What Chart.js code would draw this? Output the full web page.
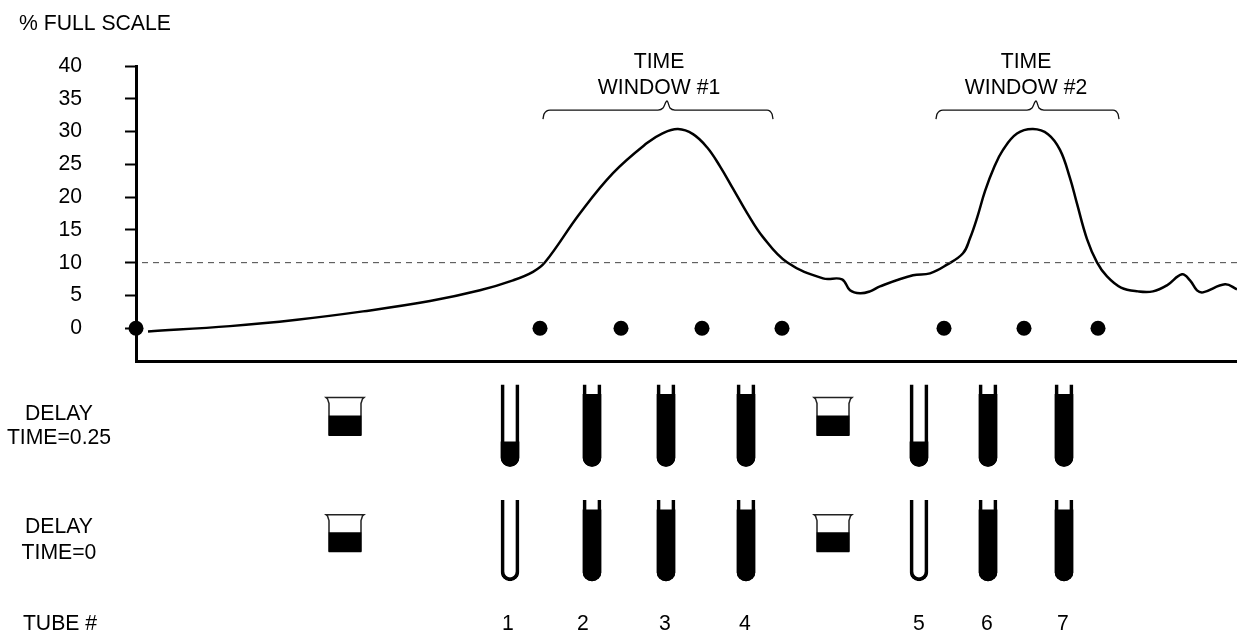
<!DOCTYPE html>
<html>
<head>
<meta charset="utf-8">
<title>Delay time windows</title>
<script src="https://cdn.jsdelivr.net/npm/chart.js@4"></script>
<style>
  html,body{margin:0;padding:0;background:#fff;}
  canvas{display:block;}
</style>
</head>
<body>
<canvas id="delayChart" width="1237" height="634"></canvas>
<script>
const yTicks=[0,5,10,15,20,25,30,35,40];
const signalX=[12,94,161,227,294,344,377,397,409,444,477,511,527,542,557,571,584,597,611,627,651,687,706,714,724,734,744,777,794,811,827,834,841,849,858,867,881,897,912,924,934,941,951,961,971,985,1002,1017,1031,1046,1054,1061,1067,1089,1101];
const signalY=[-0.49,0.32,1.30,2.57,4.14,5.78,7.30,8.6,10.05,17.54,23.66,28.24,29.77,30.38,29.6,27.6,24.7,21.3,17.6,13.9,10.05,7.61,7.46,5.78,5.32,5.62,6.39,8.07,8.37,9.7,11.43,13.72,16.8,20.9,24.5,27.2,29.7,30.38,29.6,27.2,22.9,19.0,13.6,10.05,7.9,6.2,5.62,5.62,6.54,8.22,7.3,5.78,5.47,6.69,5.93];
const thresholdX=[6,1101];
const thresholdY=[10,10];
const sampleDotX=[0,404,485,566,646,808,888,962];
const sampleDotY=[0,0,0,0,0,0,0,0];
const brace1X=[407,408,414,522,527,531,534,539,631,636,637];
const brace2X=[800,801,807,891,896,900,903,908,977,982,983];
const braceY=[31.9,32.66,33.28,33.28,33.59,34.66,33.59,33.28,33.28,32.66,31.9];
const tubeNames=["1","2","3","4","5","6","7"];
const tubeX=[374,456,530,610,783,852,928];
const tubeNameX=[372,447,529,609,783,851,927];
const delay025Levels=[30,88,88,88,30,88,88];
const delay0Levels=[0,88,88,88,0,88,88];
const beakerX=[209,697];
const beakerLevel=52;

// tube and beaker rows sit under the plot, in y axis units
const tubeRows=[{top:-8.59,bottom:-21.07,levels:delay025Levels},{top:-26.21,bottom:-38.53,levels:delay0Levels}];
const beakerRows=[{rim:-10.57,bottom:-16.38},{rim:-28.45,bottom:-34.11}];

const FONT='21.2px "Liberation Sans", Arial, sans-serif';

function xy(xs,ys){ return xs.map((x,i)=>({x,y:ys[i]})); }

const tubeOutline=[];
const tubeFill=[];
tubeRows.forEach(r=>{
  tubeX.forEach((x,i)=>{
    tubeOutline.push({x,y:[r.bottom,r.top]});
    if(r.levels[i]>0) tubeFill.push({x,y:[r.bottom,r.bottom+(r.top-r.bottom)*r.levels[i]/100]});
  });
});

const beakerFill=[];
const beakerOutline=[];
beakerRows.forEach(r=>{
  beakerX.forEach(x=>{
    beakerFill.push({x,y:[r.bottom,r.bottom+(r.rim-r.bottom)*beakerLevel/100]});
    beakerOutline.push({
      label:"beaker",
      data:[
        {x:x-16,y:r.bottom},{x:x-16,y:r.rim-0.9},{x:x-17.5,y:r.rim-0.2},{x:x-19,y:r.rim},
        {x:x+19,y:r.rim},{x:x+17.5,y:r.rim-0.2},{x:x+16,y:r.rim-0.9},{x:x+16,y:r.bottom}
      ],
      borderColor:"#222",borderWidth:1.5,pointRadius:0,tension:0,clip:false
    });
  });
});

const textLabels=[
  {text:"% FULL SCALE",x:19,y:24,align:"left"},
  {text:"TIME",x:659,y:62},
  {text:"WINDOW #1",x:659,y:88},
  {text:"TIME",x:1026,y:62},
  {text:"WINDOW #2",x:1026,y:88},
  {text:"DELAY",x:59,y:414},
  {text:"TIME=0.25",x:59,y:438},
  {text:"DELAY",x:59,y:527},
  {text:"TIME=0",x:59,y:553},
  {text:"TUBE #",x:60,y:624}
];

const textPlugin={
  id:"textPlugin",
  afterDraw(chart){
    const c=chart.ctx;
    c.save();
    c.font=FONT;
    c.fillStyle="#000";
    c.textBaseline="middle";
    textLabels.forEach(l=>{
      c.textAlign=l.align||"center";
      c.fillText(l.text,l.x,l.y);
    });
    c.textAlign="center";
    tubeNames.forEach((n,i)=>{
      c.fillText(n,chart.scales.x.getPixelForValue(tubeNameX[i]),624);
    });
    c.restore();
  }
};

new Chart(document.getElementById("delayChart"),{
  type:"line",
  plugins:[textPlugin],
  data:{
    datasets:[
      { label:"threshold", data:xy(thresholdX,thresholdY), borderColor:"#444", borderWidth:1, borderDash:[6,5], pointRadius:0 },
      { label:"signal", data:xy(signalX,signalY), borderColor:"#000", borderWidth:2.5, pointRadius:0, tension:0.4, clip:false },
      { label:"window 1", data:xy(brace1X,braceY), borderColor:"#111", borderWidth:1.3, pointRadius:0, cubicInterpolationMode:"monotone" },
      { label:"window 2", data:xy(brace2X,braceY), borderColor:"#111", borderWidth:1.3, pointRadius:0, cubicInterpolationMode:"monotone" },
      { label:"samples", data:xy(sampleDotX,sampleDotY), showLine:false, pointRadius:7.5, pointBackgroundColor:"#000", pointBorderWidth:0, clip:false },
      { type:"bar", label:"tube fill", data:tubeFill, backgroundColor:"#000", barThickness:18, grouped:false,
        borderRadius:{topLeft:0,topRight:0,bottomLeft:9,bottomRight:9}, borderSkipped:false, clip:false },
      // floating bars below zero have their base at the top, so "bottom" here opens the top end
      { type:"bar", label:"tube wall", data:tubeOutline, backgroundColor:"rgba(0,0,0,0)", borderColor:"#000", borderWidth:3, barThickness:18, grouped:false,
        borderRadius:{topLeft:0,topRight:0,bottomLeft:9,bottomRight:9}, borderSkipped:"bottom", clip:false },
      { type:"bar", label:"beaker fill", data:beakerFill, backgroundColor:"#000", barThickness:32, grouped:false, clip:false },
      ...beakerOutline
    ]
  },
  options:{
    responsive:false,
    animation:false,
    events:[],
    layout:{ autoPadding:false, padding:{left:0,right:0,top:66,bottom:273} },
    plugins:{ legend:{display:false}, tooltip:{enabled:false}, title:{display:false} },
    scales:{
      x:{
        type:"linear", min:0, max:1101, offset:false,
        ticks:{display:false},
        grid:{display:false},
        border:{display:true,color:"#000",width:3},
        afterFit(s){ s.height=0; }
      },
      y:{
        type:"linear", min:-5, max:40,
        afterBuildTicks(s){ s.ticks=yTicks.map(v=>({value:v})); },
        afterFit(s){ s.width=136; },
        ticks:{ autoSkip:false, color:"#000", padding:43, font:{family:"Liberation Sans",size:21.2} },
        grid:{ drawOnChartArea:false, drawTicks:true, tickLength:11, tickColor:"#000", tickWidth:2 },
        border:{display:true,color:"#000",width:3}
      }
    }
  }
});
</script>
</body>
</html>
